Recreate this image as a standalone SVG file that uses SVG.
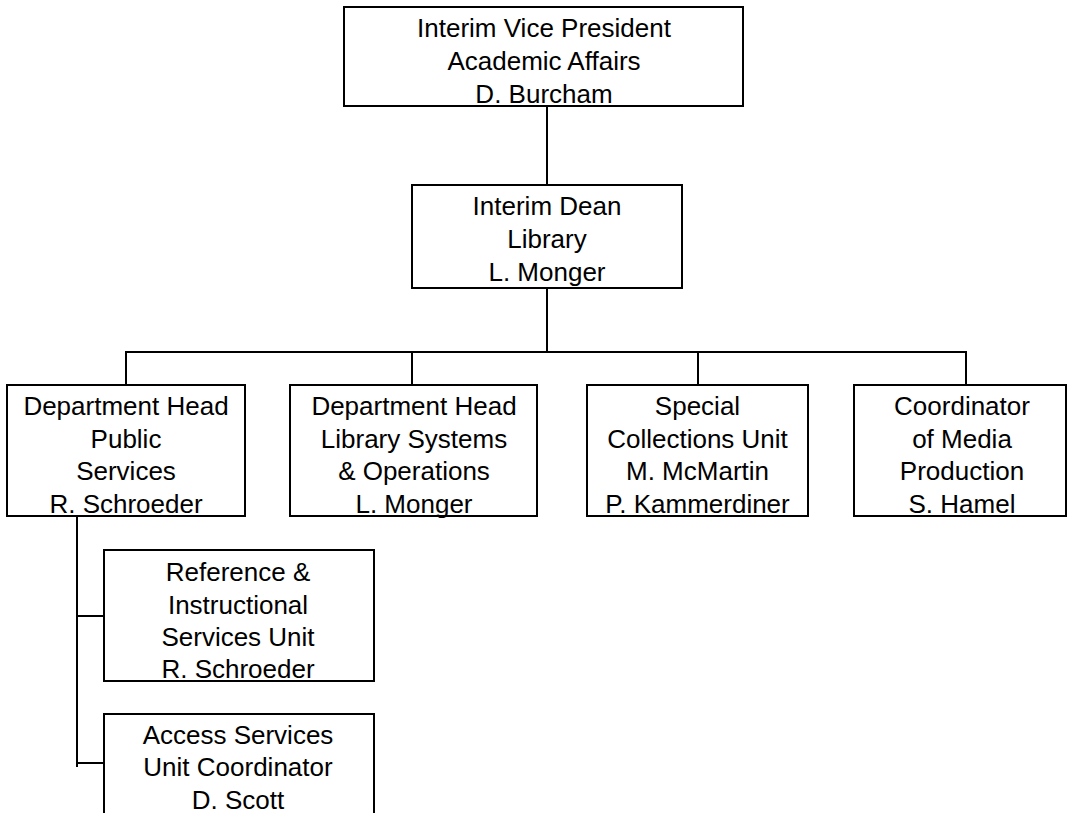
<svg xmlns="http://www.w3.org/2000/svg" width="1068" height="813" viewBox="0 0 1068 813">
<style>
rect.box{fill:#fff;stroke:#000;stroke-width:2}
text{font-family:"Liberation Sans",Arial,sans-serif;font-size:26px;fill:#000;text-anchor:middle}
.conn line{stroke:#000;stroke-width:2}
</style>
<rect width="1068" height="813" fill="#fff"/>
<g class="conn">
<line x1="547" y1="106" x2="547" y2="185"/>
<line x1="547" y1="288" x2="547" y2="352"/>
<line x1="125" y1="352" x2="967" y2="352"/>
<line x1="126" y1="352" x2="126" y2="385"/>
<line x1="412" y1="352" x2="412" y2="385"/>
<line x1="698" y1="352" x2="698" y2="385"/>
<line x1="966" y1="352" x2="966" y2="385"/>
<line x1="77" y1="516" x2="77" y2="767"/>
<line x1="76" y1="616" x2="104" y2="616"/>
<line x1="76" y1="763" x2="104" y2="763"/>
</g>
<g id="vp">
<rect class="box" x="344" y="7" width="399" height="99"/>
<text x="544" y="37">Interim Vice President</text>
<text x="544" y="70">Academic Affairs</text>
<text x="544" y="103">D. Burcham</text>
</g>
<g id="dean">
<rect class="box" x="412" y="185" width="270" height="103"/>
<text x="547" y="215">Interim Dean</text>
<text x="547" y="248">Library</text>
<text x="547" y="281">L. Monger</text>
</g>
<g id="public">
<rect class="box" x="7" y="385" width="238" height="131"/>
<text x="126" y="415">Department Head</text>
<text x="126" y="447.5">Public</text>
<text x="126" y="480">Services</text>
<text x="126" y="512.5">R. Schroeder</text>
</g>
<g id="systems">
<rect class="box" x="290" y="385" width="247" height="131"/>
<text x="414" y="415">Department Head</text>
<text x="414" y="447.5">Library Systems</text>
<text x="414" y="480">&amp; Operations</text>
<text x="414" y="512.5">L. Monger</text>
</g>
<g id="special">
<rect class="box" x="587" y="385" width="221" height="131"/>
<text x="697.5" y="415">Special</text>
<text x="697.5" y="447.5">Collections Unit</text>
<text x="697.5" y="480">M. McMartin</text>
<text x="697.5" y="512.5">P. Kammerdiner</text>
</g>
<g id="media">
<rect class="box" x="854" y="385" width="212" height="131"/>
<text x="962" y="415">Coordinator</text>
<text x="962" y="447.5">of Media</text>
<text x="962" y="480">Production</text>
<text x="962" y="512.5">S. Hamel</text>
</g>
<g id="reference">
<rect class="box" x="104" y="550" width="270" height="131"/>
<text x="238" y="581">Reference &amp;</text>
<text x="238" y="613.5">Instructional</text>
<text x="238" y="646">Services Unit</text>
<text x="238" y="678">R. Schroeder</text>
</g>
<g id="access">
<rect class="box" x="104" y="714" width="270" height="101"/>
<text x="238" y="743.5">Access Services</text>
<text x="238" y="776">Unit Coordinator</text>
<text x="238" y="809">D. Scott</text>
</g>
</svg>
